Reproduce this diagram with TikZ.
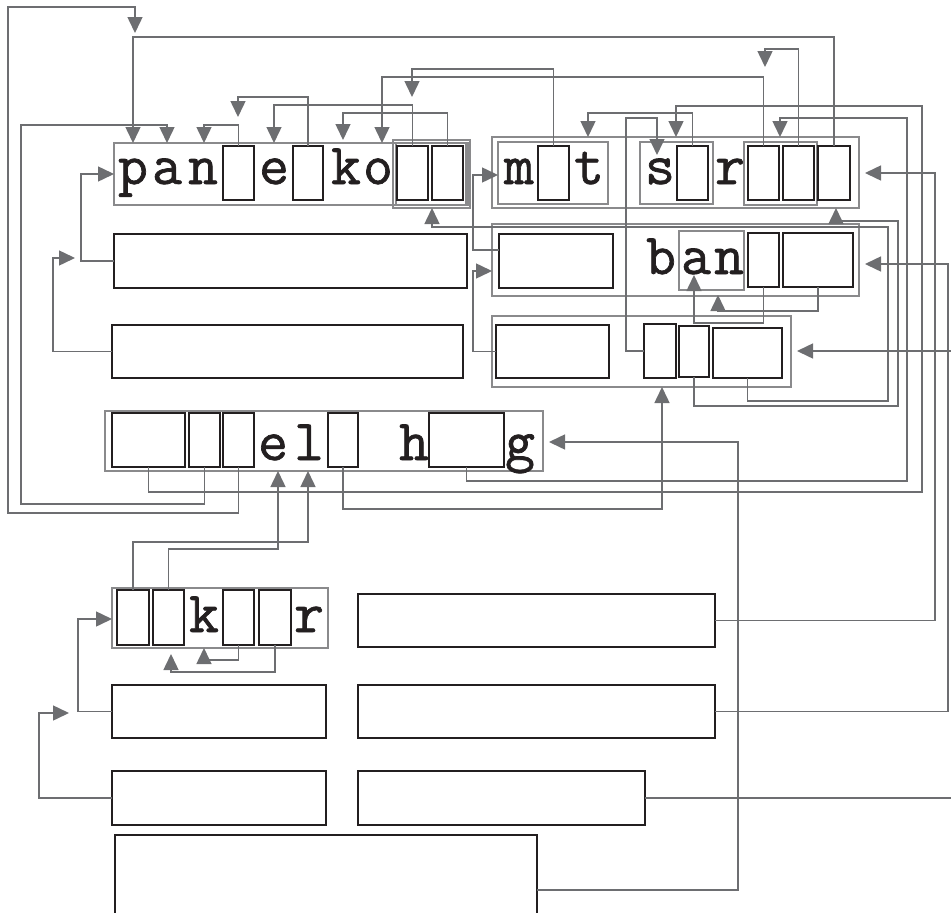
\documentclass[tikz,border=0pt]{standalone}
\usepackage{fontspec}
\newfontfamily\chfont{Latin Modern Mono}[FakeBold=1.2]
\usetikzlibrary{arrows.meta,fit}
\definecolor{cg}{HTML}{6D6E71}
\definecolor{fg}{HTML}{8A8A8C}
\definecolor{bk}{HTML}{231F20}
\tikzset{
  frm/.style={draw=fg, line width=1.3pt, inner sep=0pt, outer sep=0pt},
  blk/.style={draw=bk, line width=1.5pt, inner sep=0pt, outer sep=0pt},
  ch/.style={font=\fontsize{58}{58}\selectfont\chfont, text=bk, anchor=base, inner sep=0pt},
  conn/.style={draw=cg, line width=1.5pt},
  arr/.style={conn, -{Triangle[length=16pt,width=15pt]}}
}
\begin{document}
\begin{tikzpicture}[x=1pt,y=-1pt]
\path[use as bounding box, clip] (0,0) rectangle (951,913);
% ---------- frames ----------
\node[frm, fit={(114,143) (468,205)}] (G1) {};
\node[frm, fit={(393,140) (470,208)}] (G1a) {};
\node[frm, fit={(396,143) (466,205)}] (G1b) {};
\node[frm, fit={(492,137) (859,208)}] (G2) {};
\node[frm, fit={(498,142) (608,204)}] (G2mt) {};
\node[frm, fit={(640,142) (713,204)}] (G2sr) {};
\node[frm, fit={(744,142) (817,205)}] (G2tr) {};
\node[frm, fit={(492,224) (859,296)}] (G3) {};
\node[frm, fit={(679,231) (744,290)}] (G3an) {};
\node[frm, fit={(492,316) (791,387)}] (G4) {};
\node[frm, fit={(105,411) (543,471)}] (G5) {};
\node[frm, fit={(112,588) (328,648)}] (G6) {};
% ---------- black boxes ----------
\node[blk, fit={(223,146) (254,200)}] (b1) {};
\node[blk, fit={(293,146) (323,200)}] (b2) {};
\node[blk, fit={(397,146) (428,200)}] (b3) {};
\node[blk, fit={(432,146) (463,200)}] (b4) {};
\node[blk, fit={(538,146) (569,200)}] (mtbox) {};
\node[blk, fit={(677,146) (708,200)}] (srbox) {};
\node[blk, fit={(748,146) (779,200)}] (ta) {};
\node[blk, fit={(783,146) (814,200)}] (tb) {};
\node[blk, fit={(818,146) (850,200)}] (tc) {};
\node[blk, fit={(114,234) (467,288)}] (L2) {};
\node[blk, fit={(499,234) (613,288)}] (R2a) {};
\node[blk, fit={(748,233) (779,287)}] (R2b) {};
\node[blk, fit={(783,233) (853,287)}] (R2c) {};
\node[blk, fit={(112,325) (463,378)}] (L3) {};
\node[blk, fit={(496,325) (609,378)}] (R3L) {};
\node[blk, fit={(644,324) (676,378)}] (R3a) {};
\node[blk, fit={(679,326) (709,377)}] (R3b) {};
\node[blk, fit={(713,328) (782,378)}] (R3c) {};
\node[blk, fit={(112,413) (185,467)}] (r4a) {};
\node[blk, fit={(189,413) (220,467)}] (r4b) {};
\node[blk, fit={(223,413) (254,467)}] (r4c) {};
\node[blk, fit={(328,413) (358,467)}] (r4d) {};
\node[blk, fit={(429,413) (504,467)}] (r4e) {};
\node[blk, fit={(117,590) (149,645)}] (r5a) {};
\node[blk, fit={(153,590) (184,645)}] (r5b) {};
\node[blk, fit={(223,590) (254,645)}] (r5c) {};
\node[blk, fit={(259,590) (291,645)}] (r5d) {};
\node[blk, fit={(358,594) (715,647)}] (R5) {};
\node[blk, fit={(112,685) (326,738)}] (L6) {};
\node[blk, fit={(358,685) (715,738)}] (R6) {};
\node[blk, fit={(112,771) (326,825)}] (L7) {};
\node[blk, fit={(358,771) (645,825)}] (R7) {};
\node[blk, fit={(115,835) (537,945)}] (B8) {};
% ---------- letters ----------
\node[ch] (p1) at (133,184) {p};
\node[ch] (a1) at (167,184) {a};
\node[ch] (n1) at (203,184) {n};
\node[ch] (e1) at (274,184) {e};
\node[ch] (k1) at (346,184) {k};
\node[ch] (o1) at (378,184) {o};
\node[ch] (m2) at (519,184) {m};
\node[ch] (t2) at (589,184) {t};
\node[ch] (s2) at (660,184) {s};
\node[ch] (r2) at (730,184) {r};
\node[ch] (b3l) at (661,274) {b};
\node[ch] (a3) at (696,274) {a};
\node[ch] (n3) at (729,274) {n};
\node[ch] (e4) at (273,460) {e};
\node[ch] (l4) at (309,460) {l};
\node[ch] (h4) at (414,460) {h};
\node[ch] (g4) at (520,460) {g};
\node[ch] (k5) at (204,632) {k};
\node[ch] (r5) at (309,632) {r};
% ---------- free ends ----------
\coordinate (f1) at (135,33);
\coordinate (f5) at (75,258);
\coordinate (f6) at (238,117);
\coordinate (f9) at (343,140);
\coordinate (f11) at (412,97);
\coordinate (f12) at (765,67);
\coordinate (f15) at (657,155);
\coordinate (f25) at (694,275);
\coordinate (f26) at (718,295);
\coordinate (f32) at (171,654);
\coordinate (f34) at (69,713);
% ---------- connectors ----------
\draw[arr] (r4c.south) |- (8,513) |- (135,7) -- (f1);
\draw[arr] (tc.north) |- (133,37) -- (p1 |- G1.north);
\draw[arr] (r4b.south) |- (21,504) |- (167,125) -- (a1 |- G1.north);
\draw[arr] (L2.west) -| (81,174) -- (G1.west);
\draw[arr] (L3.west) -| (53,258) -- (f5);
\draw[arr] (b2.north) |- (238,97) -- (f6);
\draw[arr] (b1.north) |- (204,125) -- (204,0 |- G1.north);
\draw[arr] (b3.north) |- (274,105) -- (e1 |- G1.north);
\draw[arr] (b4.north) |- (343,113) -- (f9);
\draw[arr] (ta.north) |- (382,77) -- (382,0 |- G1.north);
\draw[arr] (mtbox.north) |- (412,69) -- (f11);
\draw[arr] (tb.north) |- (765,49) -- (f12);
\draw[arr] (srbox.north) |- (588,113) -- (588,0 |- G2.north);
\draw[arr] (r4a.south) |- (922,492) |- (676,106) -- (676,0 |- G2.north);
\draw[arr] (R3a.west) -| (626,118) -| (f15);
\draw[arr] (r4e.south) |- (907,481) |- (780,118) -- (780,0 |- G2.north);
\draw[arr] (r4d.south) |- (662,509) -- (662,0 |- G4.south);
\draw[arr] (R5.east) -| (935,173) -- (865,173);
\draw[arr] (R6.east) -| (948,264) -- (865,264);
\draw[arr] (R7.east) -| (958,351) -- (797,351);
\draw[arr] (B8.east) -| (738,442) -- (549,442);
\draw[arr] (R3c.south) |- (888,401) |- (432,227) -- (432,0 |- G1a.south);
\draw[arr] (R3b.south) |- (898,406) |- (836,221) -- (836,0 |- G2.south);
\draw[arr] (R2b.south) |- (694,323) -- (f25);
\draw[arr] (R2c.south) |- (718,311) -- (f26);
\draw[arr] (R2a.west |- 0,250) -| (473,175) -- (G2mt.west |- 0,175);
\draw[arr] (R3L.west) -| (473,271) -- (G3.west |- 0,271);
\draw[arr] (r5a.north) |- (308,542) -- (308,0 |- G5.south);
\draw[arr] (r5b.north) |- (278,549) -- (278,0 |- G5.south);
\draw[arr] (r5c.south) |- (204,660) -- (204,0 |- G6.south);
\draw[arr] (r5d.south) |- (171,672) -- (f32);
\draw[arr] (L6.west) -| (78,619) -- (G6.west |- 0,619);
\draw[arr] (L7.west) -| (39,713) -- (f34);
\end{tikzpicture}
\end{document}
